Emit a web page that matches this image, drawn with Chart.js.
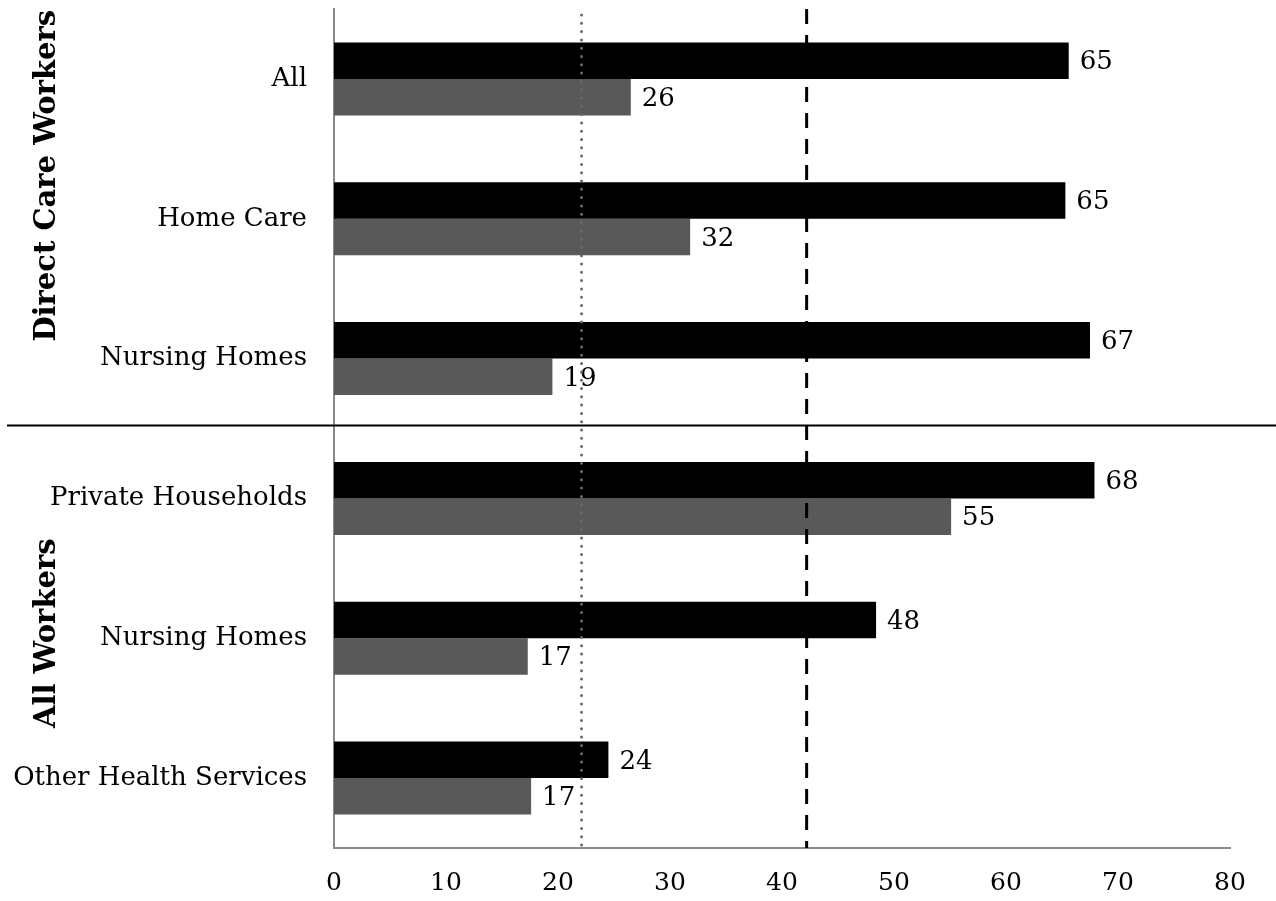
<!DOCTYPE html>
<html>
<head>
<meta charset="utf-8">
<script src="https://cdn.jsdelivr.net/npm/chart.js@4.4.1/dist/chart.umd.min.js"></script>
<style>
  html, body { margin: 0; padding: 0; background: #fff; }
  #wrap { width: 1276px; height: 901px; position: relative; }
</style>
</head>
<body>
<div id="wrap"><canvas id="c" width="1276" height="901"></canvas></div>
<script>
// ---- data ----
const categories = ['All', 'Home Care', 'Nursing Homes', 'Private Households', 'Nursing Homes', 'Other Health Services'];
const seriesBlack = [65.6, 65.3, 67.5, 67.9, 48.4, 24.5];
const seriesGrey  = [26.5, 31.8, 19.5, 55.1, 17.3, 17.6];
const labelsBlack = ['65', '65', '67', '68', '48', '24'];
const labelsGrey  = ['26', '32', '19', '55', '17', '17'];
const xTicks = [0, 10, 20, 30, 40, 50, 60, 70, 80];
const dottedRef = 22.1;
const dashedRef = 42.2;
const groupNames = ['Direct Care Workers', 'All Workers'];
const groupFirst = [0, 3];
const groupLast  = [2, 5];

const SERIF = '"DejaVu Serif", "Liberation Serif", serif';

const valueLabelPlugin = {
  id: 'valueLabels',
  afterDatasetsDraw(chart) {
    const ctx = chart.ctx;
    const lists = [labelsBlack, labelsGrey];
    ctx.save();
    ctx.font = '26px ' + SERIF;
    ctx.fillStyle = '#000';
    ctx.textAlign = 'left';
    ctx.textBaseline = 'middle';
    chart.data.datasets.forEach((ds, di) => {
      const meta = chart.getDatasetMeta(di);
      meta.data.forEach((el, i) => {
        ctx.fillText(lists[di][i], el.x + 11, el.y + 2);
      });
    });
    ctx.restore();
  }
};

const refLinePlugin = {
  id: 'refLines',
  afterDatasetsDraw(chart) {
    const ctx = chart.ctx;
    const xs = chart.scales.x;
    const top = chart.chartArea.top;
    const bottom = chart.chartArea.bottom;
    ctx.save();
    // dotted
    let x = xs.getPixelForValue(dottedRef);
    ctx.strokeStyle = '#6a6a6a';
    ctx.lineWidth = 3;
    ctx.lineCap = 'round';
    ctx.setLineDash([0, 8.3]);
    ctx.beginPath();
    ctx.moveTo(x, top + 6);
    ctx.lineTo(x, bottom);
    ctx.stroke();
    // dashed
    x = xs.getPixelForValue(dashedRef);
    ctx.strokeStyle = '#000';
    ctx.lineWidth = 3;
    ctx.lineCap = 'butt';
    ctx.setLineDash([15, 11]);
    ctx.beginPath();
    ctx.moveTo(x, top);
    ctx.lineTo(x, bottom);
    ctx.stroke();
    ctx.restore();
  }
};

const groupPlugin = {
  id: 'groups',
  afterDraw(chart) {
    const ctx = chart.ctx;
    const ys = chart.scales.y;
    ctx.save();
    // separator between groups
    const sepY = (ys.getPixelForValue(groupLast[0]) + ys.getPixelForValue(groupFirst[1])) / 2 - 3;
    ctx.strokeStyle = '#000';
    ctx.lineWidth = 2;
    ctx.beginPath();
    ctx.moveTo(7, sepY);
    ctx.lineTo(1276, sepY);
    ctx.stroke();
    // rotated group labels
    ctx.font = 'bold 29px ' + SERIF;
    ctx.fillStyle = '#000';
    ctx.textAlign = 'center';
    ctx.textBaseline = 'middle';
    const offsets = [-43, -5];
    groupNames.forEach((name, g) => {
      const cy = (ys.getPixelForValue(groupFirst[g]) + ys.getPixelForValue(groupLast[g])) / 2 + offsets[g];
      ctx.save();
      ctx.translate(47, cy);
      ctx.rotate(-Math.PI / 2);
      ctx.fillText(name, 0, 0);
      ctx.restore();
    });
    ctx.restore();
  }
};

new Chart(document.getElementById('c'), {
  type: 'bar',
  data: {
    labels: categories,
    datasets: [
      { data: seriesBlack, backgroundColor: '#000000', borderWidth: 0, categoryPercentage: 0.5225, barPercentage: 1 },
      { data: seriesGrey,  backgroundColor: '#595959', borderWidth: 0, categoryPercentage: 0.5225, barPercentage: 1 }
    ]
  },
  options: {
    indexAxis: 'y',
    responsive: false,
    devicePixelRatio: 1,
    animation: false,
    layout: { padding: { top: 9, right: 46, left: 0, bottom: 0 } },
    plugins: { legend: { display: false }, tooltip: { enabled: false }, title: { display: false } },
    scales: {
      x: {
        min: 0, max: 80,
        afterBuildTicks(scale) { scale.ticks = xTicks.map(v => ({ value: v })); },
        afterFit(scale) { scale.height = 53; scale.paddingLeft = 0; scale.paddingRight = 0; },
        grid: { display: false, drawTicks: false },
        border: { display: true, color: '#8a8a8a', width: 2 },
        ticks: { color: '#000', font: { family: SERIF, size: 25 }, padding: 20, maxRotation: 0 }
      },
      y: {
        afterFit(scale) { scale.width = 334; scale.paddingTop = 0; scale.paddingBottom = 0; },
        grid: { display: false, drawTicks: false },
        border: { display: true, color: '#8a8a8a', width: 2 },
        ticks: { color: '#000', font: { family: SERIF, size: 26 }, padding: 27 }
      }
    }
  },
  plugins: [valueLabelPlugin, refLinePlugin, groupPlugin]
});
</script>
</body>
</html>
